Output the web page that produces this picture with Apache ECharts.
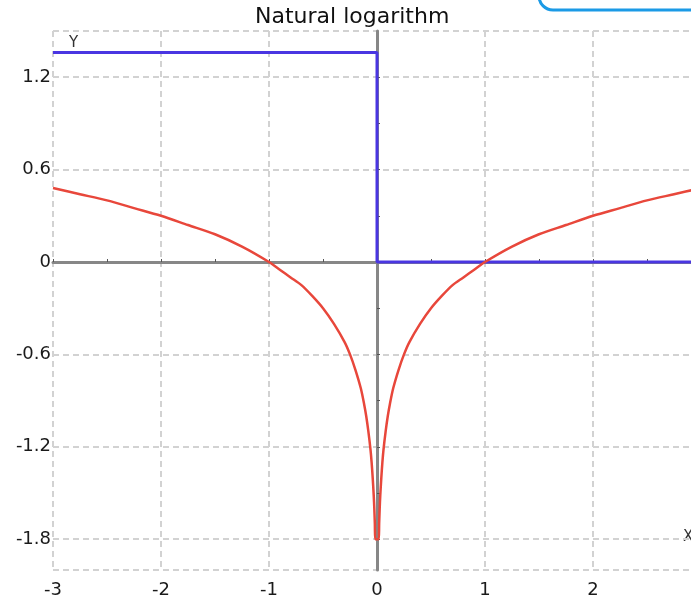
<!DOCTYPE html>
<html>
<head>
<meta charset="utf-8">
<style>
  html, body { margin: 0; padding: 0; background: #fff; }
  #chart { width: 691px; height: 601px; }
</style>
<script src="https://cdn.jsdelivr.net/npm/echarts@6/dist/echarts.min.js"></script>
</head>
<body>
<div id="chart"></div>
<script>
// values
const logX = [-3, -2.75, -2.5, -2.25, -2, -1.75, -1.5, -1.25, -1, -0.9, -0.8, -0.7, -0.6, -0.5, -0.4, -0.3, -0.25, -0.2, -0.15, -0.12, -0.1, -0.08, -0.06, -0.05, -0.04, -0.03, -0.025, -0.02, -0.016,
  0.016, 0.02, 0.025, 0.03, 0.04, 0.05, 0.06, 0.08, 0.1, 0.12, 0.15, 0.2, 0.25, 0.3, 0.4, 0.5, 0.6, 0.7, 0.8, 0.9, 1, 1.25, 1.5, 1.75, 2, 2.25, 2.5, 2.75, 3]
const logY = [0.48, 0.44, 0.40, 0.35, 0.30, 0.24, 0.18, 0.10, 0, -0.05, -0.10, -0.15, -0.22, -0.30, -0.40, -0.52, -0.60, -0.70, -0.82, -0.92, -1.00, -1.10, -1.22, -1.30, -1.40, -1.52, -1.60, -1.70, -1.80,
  -1.80, -1.70, -1.60, -1.52, -1.40, -1.30, -1.22, -1.10, -1.00, -0.92, -0.82, -0.70, -0.60, -0.52, -0.40, -0.30, -0.22, -0.15, -0.10, -0.05, 0, 0.10, 0.18, 0.24, 0.30, 0.35, 0.40, 0.44, 0.48]
const stepX = [-3, 0, 0, 3]
const stepY = [1.36, 1.36, 0, 0]
const yLabels = [-1.8, -1.2, -0.6, 0, 0.6, 1.2]
const yGrid = [-2, -1.8, -1.2, -0.6, 0, 0.6, 1.2, 1.5]
const yMinor = [-1.8, -1.5, -1.2, -0.9, -0.6, -0.3, 0, 0.3, 0.6, 0.9, 1.2]

const chart = echarts.init(document.getElementById('chart'))
const font = 'DejaVu Sans'
const dashed = { show: true, lineStyle: { color: '#d2d2d2', width: 2, type: [6, 4] } }

const option = {
  animation: false,
  title: {
    text: 'Natural logarithm',
    left: 250, top: 1,
    textStyle: { fontFamily: font, fontSize: 22, fontWeight: 'normal', color: '#111' }
  },
  grid: { left: 53, top: 31, width: 648, height: 539, outerBoundsMode: 'none', containLabel: false },
  xAxis: [
    {
      type: 'value', min: -3, max: 3, interval: 1, position: 'bottom',
      axisLine: { show: false, onZero: false },
      axisTick: { show: false },
      axisLabel: { margin: 11, fontFamily: font, fontSize: 18, color: '#1a1a1a' },
      splitLine: dashed
    },
    {
      type: 'value', min: -3, max: 3, interval: 0.5,
      axisLine: { show: true, onZero: true, onZeroAxisIndex: 1, lineStyle: { color: '#878787', width: 3 } },
      axisTick: { show: true, length: 3, inside: false, lineStyle: { color: '#555', width: 1 } },
      axisLabel: { show: false },
      splitLine: { show: false }
    }
  ],
  yAxis: [
    {
      type: 'value', min: -2, max: 1.5, position: 'left',
      axisLine: { show: false, onZero: false },
      axisTick: { show: false, customValues: yGrid },
      axisLabel: { customValues: yLabels, margin: 2, fontFamily: font, fontSize: 18, color: '#1a1a1a' },
      splitLine: dashed
    },
    {
      type: 'value', min: -2, max: 1.5,
      axisLine: { show: true, onZero: true, onZeroAxisIndex: 1, lineStyle: { color: '#878787', width: 3 } },
      axisTick: { show: true, length: 3, customValues: yMinor, lineStyle: { color: '#555', width: 1 } },
      axisLabel: { show: false },
      splitLine: { show: false }
    }
  ],
  graphic: [
    { type: 'text', left: 69, top: 36, style: { text: 'Y', font: '15px DejaVu Sans', fill: '#333' } },
    { type: 'text', left: 683, top: 530, style: { text: 'X', font: '15px DejaVu Sans', fill: '#333' } },
    { type: 'rect', shape: { x: 539, y: -40, width: 200, height: 50, r: 14 }, style: { fill: 'none', stroke: '#1b9ae6', lineWidth: 3 } }
  ],
  series: [
    {
      name: 'step', type: 'line', xAxisIndex: 0, yAxisIndex: 0,
      data: stepX.map((x, i) => [x, stepY[i]]),
      showSymbol: false, lineStyle: { color: '#4a36e2', width: 3 }
    },
    {
      name: 'log', type: 'line', xAxisIndex: 0, yAxisIndex: 0,
      data: logX.map((x, i) => [x, logY[i]]),
      smooth: 0.3,
      showSymbol: false, lineStyle: { color: '#e8473b', width: 2.5 }
    }
  ]
}
chart.setOption(option)
</script>
</body>
</html>
